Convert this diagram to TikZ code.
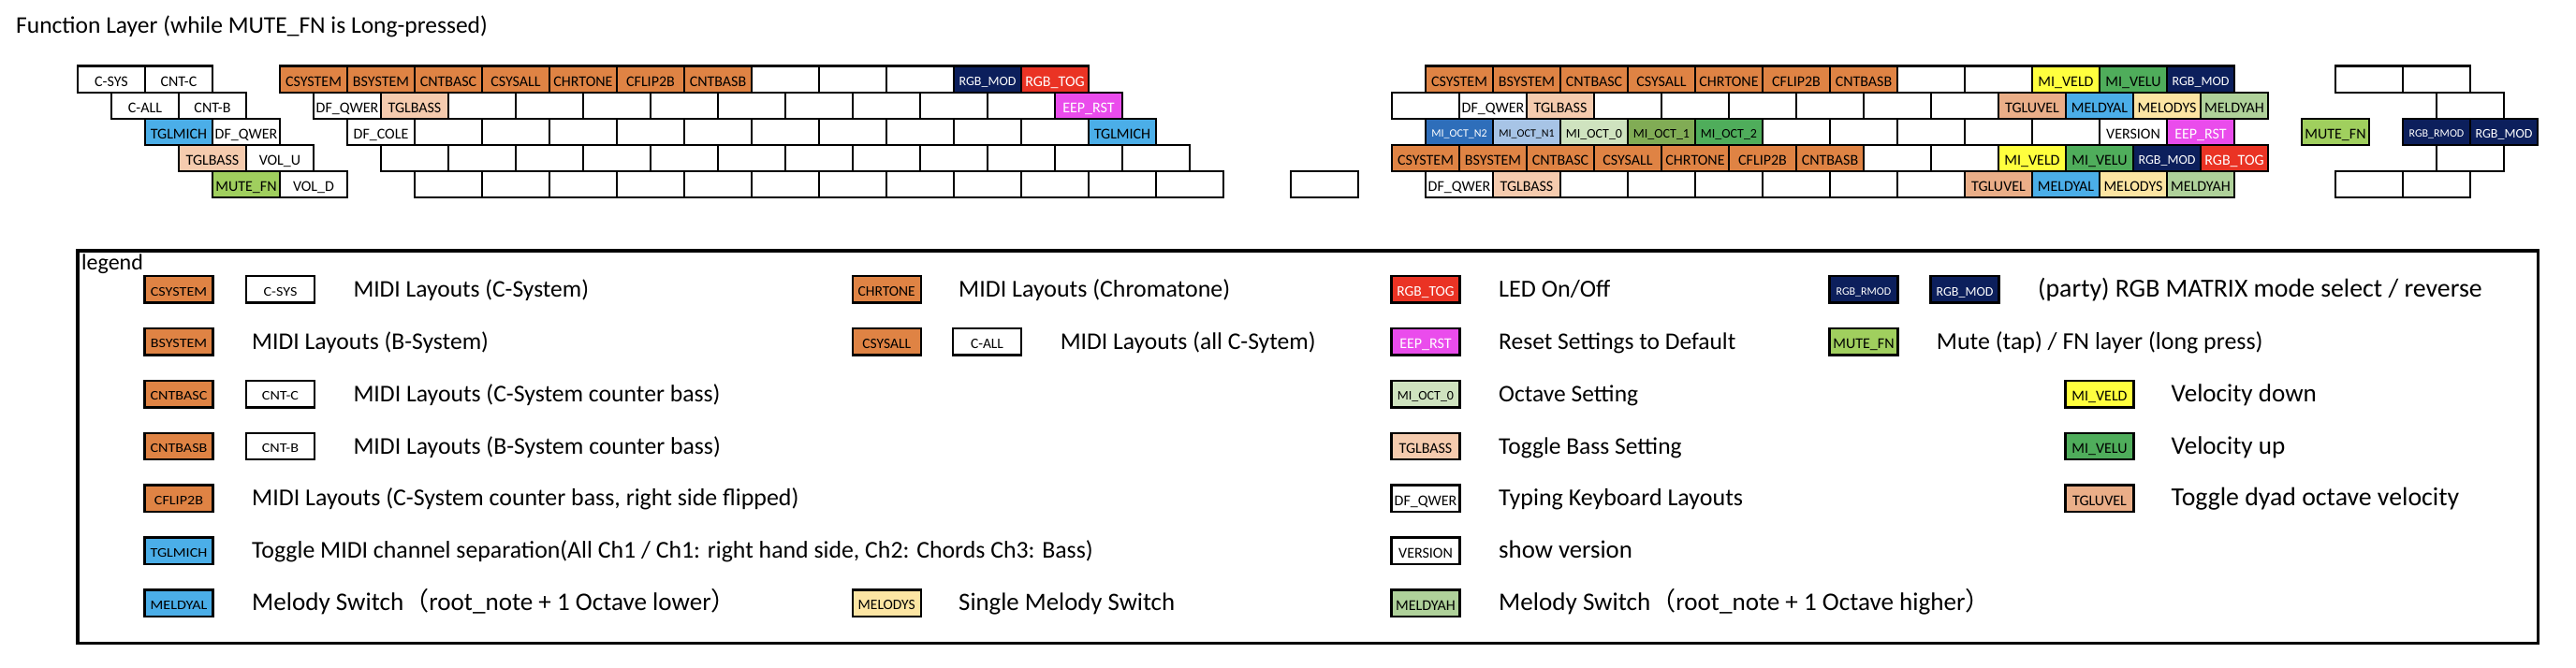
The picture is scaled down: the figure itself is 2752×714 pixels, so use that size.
\documentclass[tikz,border=0pt]{standalone}
\usepackage{fontspec}
\setmainfont{Carlito}
\newfontfamily\cjk{Noto Sans CJK JP}
\usepackage{graphicx}
\definecolor{cOr}{HTML}{DF8344}
\definecolor{cPe}{HTML}{F5CBAE}
\definecolor{cTu}{HTML}{EAAE88}
\definecolor{cBl}{HTML}{4BAEE8}
\definecolor{cMf}{HTML}{A0CF5E}
\definecolor{cNv}{HTML}{0C1F5C}
\definecolor{cRd}{HTML}{EA3324}
\definecolor{cMg}{HTML}{EA4CEC}
\definecolor{cYe}{HTML}{FFFF3E}
\definecolor{cGr}{HTML}{4FAD5B}
\definecolor{cMs}{HTML}{FCE5A3}
\definecolor{cMh}{HTML}{AFD19A}
\definecolor{cNt}{HTML}{2E6EBA}
\definecolor{cNo}{HTML}{A7C4E6}
\definecolor{cOz}{HTML}{CFE3BF}
\definecolor{cOa}{HTML}{81AC55}
\definecolor{cOb}{HTML}{4FAD5B}
\newcommand\lsc[1]{\scalebox{1.15}[1]{#1}}
\newcommand\keyrow[4]{\foreach \lab/\sty [count=\i from 0] in {#4}{\node[key,\sty] (#1-\i) at ({#2+36+72*\i},{84.73+28.06*#3}) {\lab};}}
\tikzset{
  fA/.style={font=\fontsize{16}{16}\selectfont, text height=14.9pt},
  fE/.style={font=\fontsize{15.5}{15.5}\selectfont, text height=14.5pt},
  fB/.style={font=\fontsize{14}{14}\selectfont, text height=13.5pt},
  fC/.style={font=\fontsize{12}{12}\selectfont, text height=12.2pt},
  fD/.style={font=\fontsize{10}{10}\selectfont, text height=10.9pt},
  key/.style={draw, line width=2.4pt, minimum width=72pt, minimum height=28.06pt, inner sep=0pt, fill=white, text depth=0pt, fA},
  lkey/.style={key, minimum width=73pt, minimum height=28.5pt, fA},
  kWh/.style={fill=white},
  kOr/.style={fill=cOr},
  kPe/.style={fill=cPe},
  kTu/.style={fill=cTu},
  kBl/.style={fill=cBl},
  kMf/.style={fill=cMf},
  kNv/.style={fill=cNv, text=white, fB},
  kNs/.style={fill=cNv, text=white, fC},
  kRd/.style={fill=cRd, text=white},
  kMg/.style={fill=cMg, text=white},
  kYe/.style={fill=cYe},
  kGr/.style={fill=cGr},
  kMs/.style={fill=cMs},
  kMh/.style={fill=cMh},
  kNt/.style={fill=cNt, text=white, fC},
  kNo/.style={fill=cNo, fC},
  kOz/.style={fill=cOz, fB},
  kOa/.style={fill=cOa, fB},
  kOb/.style={fill=cOb, fB},
  ltxt/.style={anchor=base west, inner sep=0pt, font=\fontsize{#1}{#1}\selectfont},
  ltxt/.default=25.8,
}
\begin{document}
\begin{tikzpicture}[x=1pt, y=-1pt]
\useasboundingbox (0,0) rectangle (2752,714);
\node[anchor=base west, inner sep=0pt, font=\fontsize{25.5}{25.5}\selectfont] (title) at (17,36) {Function Layer (while MUTE\_FN is Long-pressed)};
% left block
\keyrow{la0}{83}{0}{C-SYS/kWh,CNT-C/kWh}
\keyrow{la1}{119}{1}{C-ALL/kWh,CNT-B/kWh}
\keyrow{la2}{155}{2}{TGLMICH/kBl,DF\_QWER/kWh}
\keyrow{la3}{191}{3}{TGLBASS/kPe,VOL\_U/kWh}
\keyrow{la4}{227}{4}{MUTE\_FN/kMf,VOL\_D/kWh}
% main block
\keyrow{ma0}{299}{0}{CSYSTEM/kOr,BSYSTEM/kOr,CNTBASC/kOr,CSYSALL/kOr,CHRTONE/kOr,CFLIP2B/kOr,CNTBASB/kOr,{}/kWh,{}/kWh,{}/kWh,RGB\_MOD/kNv,RGB\_TOG/kRd}
\keyrow{ma1}{335}{1}{DF\_QWER/kWh,TGLBASS/kPe,{}/kWh,{}/kWh,{}/kWh,{}/kWh,{}/kWh,{}/kWh,{}/kWh,{}/kWh,{}/kWh,EEP\_RST/kMg}
\keyrow{ma2}{371}{2}{DF\_COLE/kWh,{}/kWh,{}/kWh,{}/kWh,{}/kWh,{}/kWh,{}/kWh,{}/kWh,{}/kWh,{}/kWh,{}/kWh,TGLMICH/kBl}
\keyrow{ma3}{407}{3}{{}/kWh,{}/kWh,{}/kWh,{}/kWh,{}/kWh,{}/kWh,{}/kWh,{}/kWh,{}/kWh,{}/kWh,{}/kWh,{}/kWh}
\keyrow{ma4}{443}{4}{{}/kWh,{}/kWh,{}/kWh,{}/kWh,{}/kWh,{}/kWh,{}/kWh,{}/kWh,{}/kWh,{}/kWh,{}/kWh,{}/kWh}
\node[key,kWh] (extra) at (1415,{84.73+28.06*4}) {};
% right block
\keyrow{ra0}{1523}{0}{CSYSTEM/kOr,BSYSTEM/kOr,CNTBASC/kOr,CSYSALL/kOr,CHRTONE/kOr,CFLIP2B/kOr,CNTBASB/kOr,{}/kWh,{}/kWh,MI\_VELD/kYe,MI\_VELU/kGr,RGB\_MOD/kNv}
\keyrow{ra1}{1487}{1}{{}/kWh,DF\_QWER/kWh,TGLBASS/kPe,{}/kWh,{}/kWh,{}/kWh,{}/kWh,{}/kWh,{}/kWh,TGLUVEL/kTu,MELDYAL/kBl,MELODYS/kMs,MELDYAH/kMh}
\keyrow{ra2}{1523}{2}{MI\_OCT\_N2/kNt,MI\_OCT\_N1/kNo,MI\_OCT\_0/kOz,MI\_OCT\_1/kOa,MI\_OCT\_2/kOb,{}/kWh,{}/kWh,{}/kWh,{}/kWh,{}/kWh,VERSION/kWh,EEP\_RST/kMg}
\keyrow{ra3}{1487}{3}{CSYSTEM/kOr,BSYSTEM/kOr,CNTBASC/kOr,CSYSALL/kOr,CHRTONE/kOr,CFLIP2B/kOr,CNTBASB/kOr,{}/kWh,{}/kWh,MI\_VELD/kYe,MI\_VELU/kGr,RGB\_MOD/kNv,RGB\_TOG/kRd}
\keyrow{ra4}{1523}{4}{DF\_QWER/kWh,TGLBASS/kPe,{}/kWh,{}/kWh,{}/kWh,{}/kWh,{}/kWh,{}/kWh,TGLUVEL/kTu,MELDYAL/kBl,MELODYS/kMs,MELDYAH/kMh}
% far right
\keyrow{fa0}{2495}{0}{{}/kWh,{}/kWh}
\keyrow{fa1}{2603}{1}{{}/kWh}
\keyrow{fm}{2459}{2}{MUTE\_FN/kMf}
\keyrow{fa2}{2567}{2}{RGB\_RMOD/kNs,RGB\_MOD/kNv}
\keyrow{fa3}{2603}{3}{{}/kWh}
\keyrow{fa4}{2495}{4}{{}/kWh,{}/kWh}
% legend
\node[draw, line width=3.6pt, minimum width=2628.5pt, minimum height=419.5pt, inner sep=0pt, anchor=north west] (legbox) at (81,266) {};
\node[anchor=base west, inner sep=0pt, font=\fontsize{24}{24}\selectfont] (legtitle) at (87,288) {legend};
% row 1
\node[lkey,kOr,fB] (l1a) at (191,309.3) {\lsc{CSYSTEM}};
\node[lkey,kWh,fB] (l1b) at (299.5,309.3) {\lsc{C-SYS}};
\node[ltxt=25.5] (t1a) at (377.3,317.3) {MIDI Layouts (C-System)};
\node[lkey,kOr,fE] (l1c) at (947.2,309.3) {CHRTONE};
\node[ltxt=25.9] (t1b) at (1024,317.3) {MIDI Layouts (Chromatone)};
\node[lkey,kRd,fE] (l1d) at (1523,309.3) {RGB\_TOG};
\node[ltxt=26.1] (t1c) at (1601,317.3) {LED On/Off};
\node[lkey,kNv,fC] (l1e) at (1991,309.3) {RGB\_RMOD};
\node[lkey,kNv,fB] (l1f) at (2099,309.3) {RGB\_MOD};
\node[ltxt=27.8] (t1d) at (2177,317.3) {(party) RGB MATRIX mode select / reverse};
% row 2
\node[lkey,kOr,fB] (l2a) at (191,365.2) {\lsc{BSYSTEM}};
\node[ltxt=25.6] (t2a) at (269,373.2) {MIDI Layouts (B-System)};
\node[lkey,kOr,fE] (l2b) at (947.2,365.2) {CSYSALL};
\node[lkey,kWh,fE] (l2c) at (1054.5,365.2) {C-ALL};
\node[ltxt=25.6] (t2b) at (1132.6,373.2) {MIDI Layouts (all C-Sytem)};
\node[lkey,kMg] (l2d) at (1523,365.2) {EEP\_RST};
\node[ltxt=25.5] (t2c) at (1601,373.2) {Reset Settings to Default};
\node[lkey,kMf] (l2e) at (1991,365.2) {MUTE\_FN};
\node[ltxt=25.9] (t2d) at (2068.7,373.2) {Mute (tap) / FN layer (long press)};
% row 3
\node[lkey,kOr,fB] (l3a) at (191,421.1) {\lsc{CNTBASC}};
\node[lkey,kWh,fB] (l3b) at (299.5,421.1) {\lsc{CNT-C}};
\node[ltxt=25.7] (t3a) at (377.3,429.1) {MIDI Layouts (C-System counter bass)};
\node[lkey,kOz,fB] (l3c) at (1523,421.1) {MI\_OCT\_0};
\node[ltxt=25.5] (t3b) at (1601,429.1) {Octave Setting};
\node[lkey,kYe] (l3d) at (2243,421.1) {MI\_VELD};
\node[ltxt=27.1] (t3c) at (2319.5,429.1) {Velocity down};
% row 4
\node[lkey,kOr,fB] (l4a) at (191,477) {\lsc{CNTBASB}};
\node[lkey,kWh,fB] (l4b) at (299.5,477) {\lsc{CNT-B}};
\node[ltxt=25.7] (t4a) at (377.3,485) {MIDI Layouts (B-System counter bass)};
\node[lkey,kPe] (l4c) at (1523,477) {TGLBASS};
\node[ltxt=25.5] (t4b) at (1601,485) {Toggle Bass Setting};
\node[lkey,kGr] (l4d) at (2243,477) {MI\_VELU};
\node[ltxt=27.1] (t4c) at (2319.5,485) {Velocity up};
% row 5
\node[lkey,kOr,fB] (l5a) at (191,532.9) {\lsc{CFLIP2B}};
\node[ltxt=25.9] (t5a) at (269,540.9) {MIDI Layouts (C-System counter bass, right side flipped)};
\node[lkey,kWh] (l5b) at (1523,532.9) {DF\_QWER};
\node[ltxt=26] (t5b) at (1601,540.9) {Typing Keyboard Layouts};
\node[lkey,kTu] (l5c) at (2243,532.9) {TGLUVEL};
\node[ltxt=27.8] (t5c) at (2319.5,540.9) {Toggle dyad octave velocity};
% row 6
\node[lkey,kBl,fB] (l6a) at (191,588.8) {\lsc{TGLMICH}};
\node[ltxt=25.8] (t6a) at (269,596.8) {Toggle MIDI channel separation(All Ch1 / Ch1: right hand side, Ch2: Chords Ch3: Bass)};
\node[lkey,kWh] (l6b) at (1523,588.8) {VERSION};
\node[ltxt=26.8] (t6b) at (1601,596.8) {show version};
% row 7
\node[lkey,kBl,fB] (l7a) at (191,644.7) {\lsc{MELDYAL}};
\node[ltxt=27.1] (t7a) at (269,652.7) {Melody Switch{\cjk （}root\_note + 1 Octave lower{\cjk ）}};
\node[lkey,kMs,fE] (l7b) at (947.2,644.7) {MELODYS};
\node[ltxt=26.8] (t7b) at (1024,652.7) {Single Melody Switch};
\node[lkey,kMh] (l7c) at (1523,644.7) {MELDYAH};
\node[ltxt=27.1] (t7c) at (1601,652.7) {Melody Switch{\cjk （}root\_note + 1 Octave higher{\cjk ）}};
\end{tikzpicture}
\end{document}
